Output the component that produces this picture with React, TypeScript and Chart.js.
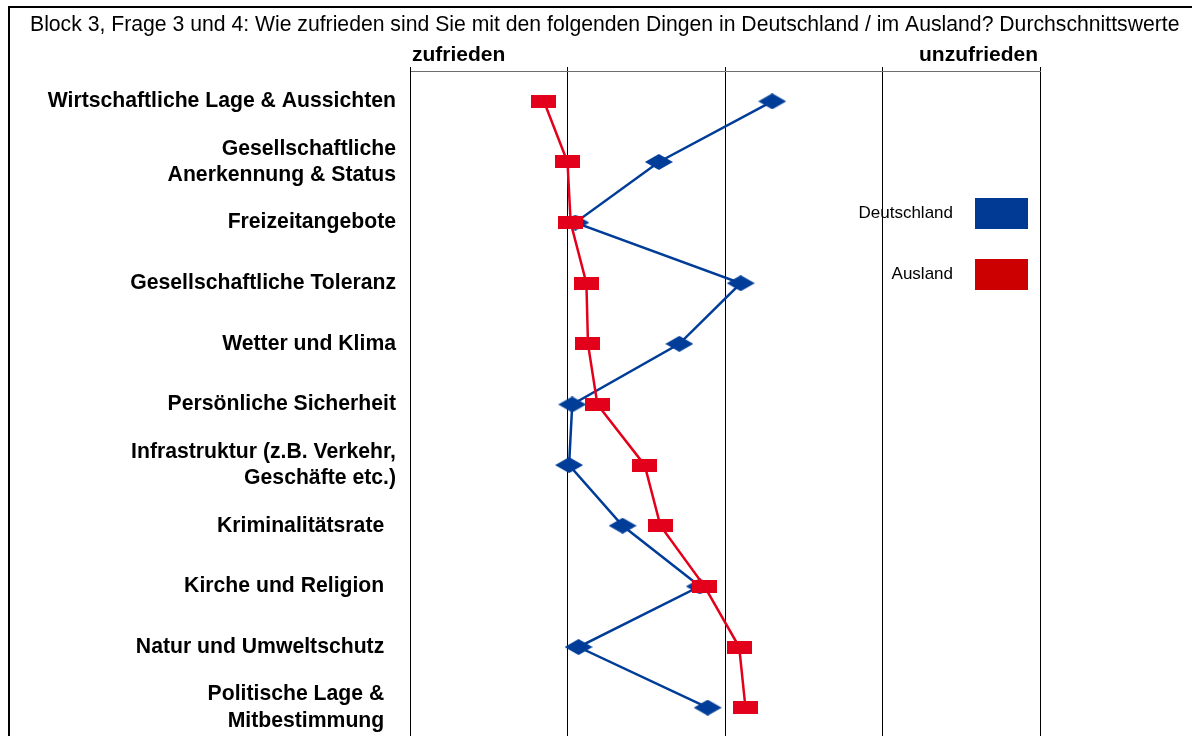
import React, { useEffect, useRef } from "react";
import { Chart, registerables } from "chart.js";

Chart.register(...registerables);

// ---------------- data ----------------
const categories: (string | string[])[] = [
  "Wirtschaftliche Lage & Aussichten",
  ["Gesellschaftliche", "Anerkennung & Status"],
  "Freizeitangebote",
  "Gesellschaftliche Toleranz",
  "Wetter und Klima",
  "Persönliche Sicherheit",
  ["Infrastruktur (z.B. Verkehr,", "Geschäfte etc.)"],
  "Kriminalitätsrate  ",
  "Kirche und Religion  ",
  "Natur und Umweltschutz  ",
  ["Politische Lage &  ", "Mitbestimmung  "],
];
const deutschland = [3.3, 2.58, 2.05, 3.1, 2.71, 2.03, 2.01, 2.35, 2.84, 2.07, 2.89];
const ausland = [1.85, 2.0, 2.02, 2.12, 2.13, 2.19, 2.49, 2.59, 2.87, 3.09, 3.13];
const seriesNames = ["Deutschland", "Ausland"];
const scaleMin = 1;
const scaleMax = 5;
const leftEndLabel = "zufrieden";
const rightEndLabel = "unzufrieden";
const titleText =
  "Block 3, Frage 3 und 4: Wie zufrieden sind Sie mit den folgenden Dingen in Deutschland / im Ausland? Durchschnittswerte";

// ---------------- styles ----------------
const FONT = '"Liberation Sans", Arial, Helvetica, sans-serif';
const BLUE = "#003d98";
const RED = "#e3001b";
const LEGEND_BLUE = "#003a94";
const LEGEND_RED = "#cc0000";

function makeDiamond(w: number, h: number, color: string) {
  const c = document.createElement("canvas");
  c.width = w;
  c.height = h;
  const ctx = c.getContext("2d")!;
  ctx.fillStyle = color;
  ctx.beginPath();
  ctx.moveTo(w / 2, 0);
  ctx.lineTo(w, h / 2);
  ctx.lineTo(w / 2, h);
  ctx.lineTo(0, h / 2);
  ctx.closePath();
  ctx.fill();
  return c;
}

function makeRect(w: number, h: number, color: string) {
  const c = document.createElement("canvas");
  c.width = w;
  c.height = h;
  const ctx = c.getContext("2d")!;
  ctx.fillStyle = color;
  ctx.fillRect(0, 0, w, h);
  return c;
}

const decorPlugin = {
  id: "decor",
  afterDraw(chart: any) {
    const { ctx, chartArea } = chart;
    const { left, right, top } = chartArea;
    ctx.save();
    // frame
    ctx.fillStyle = "#000";
    ctx.fillRect(8, 6, 1200, 2);
    ctx.fillRect(8, 6, 2, 800);
    // title
    ctx.fillStyle = "#000";
    ctx.font = `21.2px ${FONT}`;
    ctx.textAlign = "left";
    ctx.textBaseline = "middle";
    ctx.fillText(titleText, 30, 25);
    // end labels
    ctx.font = `bold 21px ${FONT}`;
    ctx.textAlign = "left";
    ctx.fillText(leftEndLabel, left + 2, top - 16);
    ctx.textAlign = "right";
    ctx.fillText(rightEndLabel, right - 2, top - 16);
    // legend
    const colors = [LEGEND_BLUE, LEGEND_RED];
    ctx.font = `17px ${FONT}`;
    ctx.textAlign = "right";
    seriesNames.forEach((name, i) => {
      const by = top + 127 + i * 61;
      ctx.fillStyle = colors[i];
      ctx.fillRect(right - 65, by, 53, 31);
      ctx.fillStyle = "#000";
      ctx.fillText(name, right - 87, by + 15);
    });
    ctx.restore();
  },
};

export default function App() {
  const ref = useRef<HTMLCanvasElement | null>(null);

  useEffect(() => {
    if (!ref.current) return;
    const diamond = makeDiamond(28, 16, BLUE);
    const rect = makeRect(25, 13, RED);
    const chart = new Chart(ref.current, {
      type: "line",
      data: {
        labels: categories as any,
        datasets: [
          {
            label: seriesNames[0],
            data: deutschland,
            borderColor: BLUE,
            backgroundColor: BLUE,
            borderWidth: 2.5,
            pointStyle: diamond as any,
            pointRadius: 6,
            tension: 0,
            order: 2,
          },
          {
            label: seriesNames[1],
            data: ausland,
            borderColor: RED,
            backgroundColor: RED,
            borderWidth: 2.5,
            pointStyle: rect as any,
            pointRadius: 6,
            tension: 0,
            order: 1,
          },
        ],
      },
      options: {
        indexAxis: "y",
        animation: false,
        responsive: false,
        maintainAspectRatio: false,
        layout: { padding: { left: 10, top: 67, right: 152, bottom: 2 } },
        scales: {
          x: {
            type: "linear",
            position: "top",
            min: scaleMin,
            max: scaleMax,
            ticks: { display: false, stepSize: 1 },
            grid: { color: "#000", lineWidth: 1, drawTicks: true, tickLength: 4 },
            border: { display: true, color: "#6e6e6e", width: 1 },
            afterFit(s: any) {
              s.height = 4;
            },
          },
          y: {
            type: "category",
            offset: true,
            grid: { display: false },
            border: { display: true, color: "#000", width: 1 },
            ticks: {
              color: "#000",
              autoSkip: false,
              padding: 6,
              font: { family: FONT, size: 21.2, weight: "bold", lineHeight: 1.23 },
            },
            afterFit(s: any) {
              s.width = 400;
            },
          },
        },
        plugins: {
          legend: { display: false },
          tooltip: { enabled: false },
          title: { display: false },
        },
      } as any,
      plugins: [decorPlugin],
    });
    return () => chart.destroy();
  }, []);

  return (
    <div
      style={{
        position: "fixed",
        left: 0,
        top: 0,
        width: 1192,
        height: 736,
        overflow: "hidden",
        background: "#fff",
      }}
    >
      <canvas ref={ref} width={1192} height={757} style={{ width: 1192, height: 757, display: "block" }} />
    </div>
  );
}
